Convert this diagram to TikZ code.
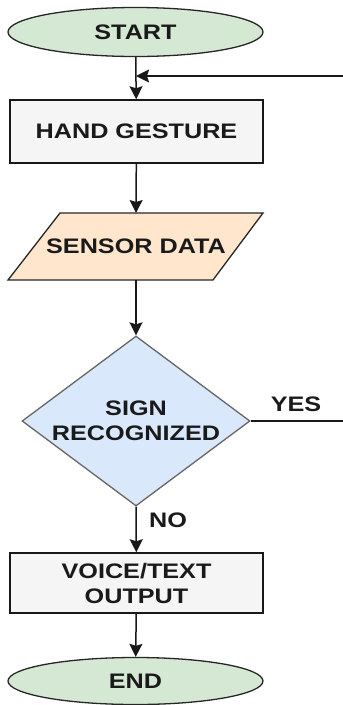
\documentclass[tikz,border=0pt]{standalone}
\usepackage{fontspec}
\setmainfont{Liberation Sans}[FakeStretch=1.2]
\usetikzlibrary{shapes.geometric,arrows.meta}
\definecolor{termfill}{HTML}{D5E8D4}
\definecolor{procfill}{HTML}{F5F5F5}
\definecolor{iofill}{HTML}{FFE6CC}
\definecolor{decfill}{HTML}{DAE8FC}
\definecolor{txt}{HTML}{1A1A1A}
\begin{document}
\begin{tikzpicture}[x=1pt,y=-1pt,
  every node/.style={font=\fontsize{21}{25}\selectfont\bfseries, text=txt, align=center, inner sep=0pt},
  term/.style={ellipse, draw=black!85, line width=1.3pt, fill=termfill, minimum width=255pt, minimum height=49pt},
  proc/.style={rectangle, draw=black!90, line width=1.5pt, fill=procfill, minimum width=253pt},
  dec/.style={diamond, draw=black!60, line width=1.3pt, fill=decfill, minimum width=228pt, minimum height=170pt, shape aspect=1.34},
  conn/.style={line width=1.5pt, draw=black!90},
  arr/.style={conn, -{Stealth[length=13pt,width=13pt,inset=2pt]}},
  lbl/.style={font=\fontsize{21}{25}\selectfont\bfseries}
]
\useasboundingbox (0,0) rectangle (343,705);
\node[term] (start) at (135.5,32) {START};
\node[proc, minimum height=63pt] (hand) at (136.5,131.5) {HAND GESTURE};
\coordinate (sensTop) at (136,213);
\coordinate (sensBot) at (136,280);
\draw[line width=1.3pt, draw=black!85, fill=iofill] (60,213) -- (263,213) -- (213,280) -- (8,280) -- cycle;
\node (sensor) at (136,246.5) {SENSOR DATA};
\node[dec] (dec) at (136,421) {SIGN\\RECOGNIZED};
\node[proc, minimum height=60pt] (voice) at (136.5,583) {VOICE/TEXT\\OUTPUT};
\node[term, minimum height=47pt] (end) at (135.5,681) {END};
\coordinate (yesEnd) at (343,421);
\coordinate (loopStart) at (343,76);
\coordinate (loopIn) at (136,76);
\draw[arr] (start) -- (hand);
\draw[arr] (hand) -- (sensTop);
\draw[arr] (sensBot) -- (dec.north);
\draw[arr] (dec.south) -- (voice);
\draw[arr] (voice) -- (end);
\draw[conn] (dec.east) -- (yesEnd);
\draw[arr] (loopStart) -- (loopIn);
\node[lbl] (yes) at (296,404) {YES};
\node[lbl] (no) at (168,520) {NO};
\end{tikzpicture}
\end{document}
